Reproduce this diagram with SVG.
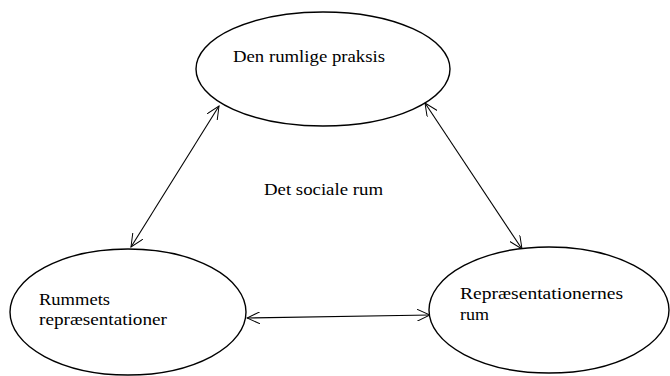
<svg xmlns="http://www.w3.org/2000/svg" width="670" height="376" viewBox="0 0 670 376">
<style>
.node{fill:#fff;stroke:#000;stroke-width:1.4}
.lbl{font-family:"Liberation Serif","DejaVu Serif",serif;font-size:17.5px;fill:#000}
.edge{stroke:#000;stroke-width:1.1;fill:none}
</style>
<defs>
<marker id="ah" viewBox="0 0 14 12" refX="13" refY="6" markerWidth="14" markerHeight="12" markerUnits="userSpaceOnUse" orient="auto-start-reverse">
<path d="M0,0 L13,6 L0,12" fill="none" stroke="#000" stroke-width="1"/>
</marker>
</defs>
<rect width="670" height="376" fill="#fff"/>
<g id="connectors">
<line class="edge" x1="219" y1="106" x2="131" y2="247" marker-start="url(#ah)" marker-end="url(#ah)"/>
<line class="edge" x1="425" y1="103" x2="522" y2="249" marker-start="url(#ah)" marker-end="url(#ah)"/>
<line class="edge" x1="247" y1="318" x2="430" y2="315" marker-start="url(#ah)" marker-end="url(#ah)"/>
</g>
<g id="node-praksis">
<ellipse class="node" cx="323" cy="69" rx="127" ry="57"/>
<text class="lbl" x="233" y="62" textLength="152" lengthAdjust="spacingAndGlyphs">Den rumlige praksis</text>
</g>
<g id="node-rummets">
<ellipse class="node" cx="128" cy="312" rx="118" ry="63"/>
<text class="lbl" x="39" y="305" textLength="71" lengthAdjust="spacingAndGlyphs">Rummets</text>
<text class="lbl" x="39" y="325" textLength="128" lengthAdjust="spacingAndGlyphs">repræsentationer</text>
</g>
<g id="node-repr">
<ellipse class="node" cx="549" cy="310" rx="120" ry="63"/>
<text class="lbl" x="460" y="299" textLength="163" lengthAdjust="spacingAndGlyphs">Repræsentationernes</text>
<text class="lbl" x="460" y="320" textLength="29" lengthAdjust="spacingAndGlyphs">rum</text>
</g>
<g id="center">
<text class="lbl" x="264" y="195" textLength="119" lengthAdjust="spacingAndGlyphs">Det sociale rum</text>
</g>
</svg>
